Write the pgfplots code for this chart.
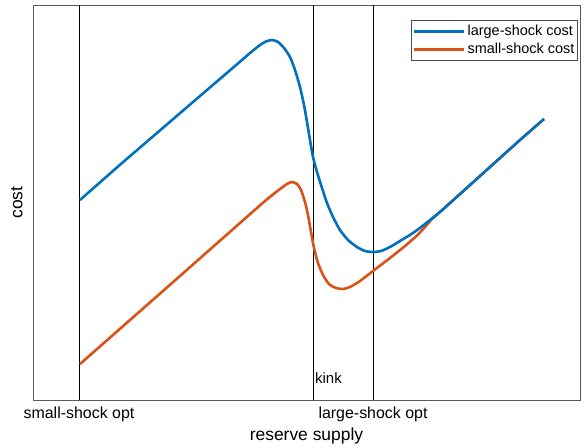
\documentclass[border=0pt]{standalone}
\usepackage{pgfplots}
\pgfplotsset{compat=1.18}
\usepackage{fontspec}
\setmainfont{Liberation Sans}
\definecolor{mblue}{HTML}{0072BD}
\definecolor{morange}{HTML}{D95319}
\begin{document}
\begin{tikzpicture}
\begin{axis}[
  scale only axis,
  width=547bp, height=395bp,
  xmin=33, xmax=580, ymin=0, ymax=395,
  axis line style={draw=black!65, line width=0.9bp},
  xtick={79,373},
  xticklabels={small-shock opt, large-shock opt},
  ytick=\empty,
  major tick length=0pt,
  xticklabel style={font=\fontsize{16}{18}\selectfont, yshift=-3bp},
  xlabel={reserve supply},
  ylabel={cost},
  xlabel style={font=\fontsize{17.5}{19}\selectfont, yshift=0bp},
  ylabel style={font=\fontsize{17.5}{19}\selectfont, yshift=7bp},
  legend style={at={(rel axis cs:0.996,0.962)}, anchor=north east,
    draw=black!70, line width=0.8bp, font=\fontsize{14.5}{15}\selectfont,
    inner xsep=1bp, inner ysep=3bp, row sep=2bp, cells={anchor=west}},
  legend image code/.code={\draw[#1] (0bp,0bp) -- (50bp,0bp);},
  clip=true,
]
\addlegendimage{mblue, line width=3bp}
\addlegendimage{morange, line width=3bp}
\legend{large-shock cost, small-shock cost}
% vertical reference lines
\addplot[black, line width=0.8bp, forget plot] coordinates {(79,0) (79,395)};
\addplot[black, line width=0.8bp, forget plot] coordinates {(313,0) (313,395)};
\addplot[black, line width=0.8bp, forget plot] coordinates {(373,0) (373,395)};
% small-shock cost
\addplot[morange, line width=2.6bp, smooth, tension=0.4, forget plot] coordinates {
(80,36) (120,71.2) (160,106.4) (200,141.7) (240,177) (265,199) (280,211)
(287,216) (292,218) (297,216) (301,210) (305,198) (308,185) (311,168)
(314,152) (318,137) (323,125) (329,116) (336,112) (343,111) (350,113)
(360,119) (373,129) (390,142) (405,154) (417,164.5) (425,173) (432,181)
(440,188) (460,206) (480,224) (500,242) (520,260) (544,281)
};
% large-shock cost
\addplot[mblue, line width=2.6bp, smooth, tension=0.4, forget plot] coordinates {
(80,200) (120,235.2) (160,269.6) (200,304) (240,338.3) (250,347) (260,355)
(266,358.5) (272,360) (278,358) (284,352) (290,343) (295,330) (300,313)
(304,295) (307,278) (310,260) (313,243) (317,228) (322,212) (327,197)
(333,183) (340,170) (348,160) (357,153) (365,149) (373,148) (381,149)
(390,153) (400,159) (413,167) (425,176) (440,188) (460,206) (480,224)
(500,242) (520,260) (544,281)
};
\node[anchor=west, font=\fontsize{15}{16}\selectfont, inner sep=1bp] at (axis cs:314,22) {kink};
\end{axis}
\path (current axis.south west) ++(-33bp,-46bp) coordinate (bbsw);
\path (current axis.north east) ++(4bp,5bp) coordinate (bbne);
\useasboundingbox (bbsw) rectangle (bbne);
\end{tikzpicture}
\end{document}
